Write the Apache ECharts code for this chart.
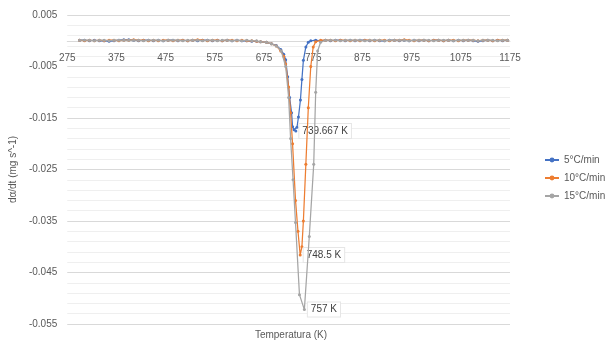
<!DOCTYPE html>
<html>
<head>
<meta charset="utf-8">
<script src="https://cdn.jsdelivr.net/npm/echarts@6.0.0/dist/echarts.min.js"></script>
<style>
  html, body { margin: 0; padding: 0; background: #fff; }
  #main { width: 605px; height: 343px; }
</style>
</head>
<body>
<div id="main"></div>
<script>
  var myChart = echarts.init(document.getElementById('main'));

  // flat parts of the curves, shared temperatures (K)
  const lowT = [300,310,320,330,340,350,360,370,380,390,400,410,420,430,440,450,460,470,480,490,500,510,520,530,540,550,560,570,580,590,600,610,620,630,640,650,660];
  const highT = [800,810,820,830,840,850,860,870,880,890,900,910,920,930,940,950,960,970,980,990,1000,1010,1020,1030,1040,1050,1060,1070,1080,1090,1100,1110,1120,1130,1140,1150,1160,1170];

  // 5°C/min
  const low5 = [0.0001,0.0001,0,0.0001,0,0,-0.0001,0,0.0001,0.0002,0.0002,0.0001,0,0.0001,0.0001,0,0.0001,0,0.0001,0.0001,0,0.0001,0,0.0001,0,0.0001,0.0001,0,0.0001,0,0.0001,0,0.0001,0,0,-0.0001,-0.0001];
  const peak5T = [668,680,690,700,709,715,719,723,727,731,733,736,739.667,742,745,749,752,755,760,765,770,780,790];
  const peak5 = [-0.0002,-0.0003,-0.0006,-0.0009,-0.0017,-0.0026,-0.0037,-0.007,-0.011,-0.014,-0.0167,-0.0173,-0.0175,-0.0168,-0.0148,-0.0115,-0.0075,-0.0038,-0.0012,-0.0003,0,0.0001,0];
  const high5 = [0.0001,0,0.0001,0.0001,0,0.0001,0,0.0001,0.0001,0,0.0001,0,0,0.0001,0.0001,0,0.0001,0,0.0001,0,0.0001,0,0.0001,0.0001,0,0.0001,0,0.0001,0,0.0001,0,-0.0001,0,0.0001,0,0.0001,0,0.0001];

  // 10°C/min
  const low10 = [0.0001,0,0.0001,0,0.0001,0,0.0001,0.0001,0,0.0001,0.0001,0.0002,0.0001,0.0001,0,0.0001,0,0.0001,0.0001,0,0.0001,0.0001,0,0.0001,0.0002,0.0001,0,0.0001,0.0001,0,0.0001,0.0001,0,0.0001,0,0,-0.0001];
  const peak10T = [668,680,690,700,709,715,719,725,729,733,739,744,748.5,752,755,760,765,770,775,780,790];
  const peak10 = [-0.0002,-0.0003,-0.0006,-0.001,-0.002,-0.003,-0.0045,-0.009,-0.014,-0.02,-0.031,-0.037,-0.0416,-0.04,-0.035,-0.024,-0.013,-0.005,-0.0012,-0.0002,0.0001];
  const high10 = [0.0001,0.0001,0,0.0001,0.0001,0,0.0001,0,0.0001,0.0001,0,0.0001,0.0001,0,0.0001,0.0001,0.0002,0.0001,0,0.0001,0.0001,0,0.0001,0.0001,0,0.0001,0.0001,0,0.0001,0.0001,0.0001,0,0.0001,0.0001,0,0.0001,0.0001,0.0001];

  // 15°C/min
  const low15 = [0.0001,0.0001,0.0001,0,0.0001,0.0001,0,0.0001,0.0001,0.0001,0.0001,0.0001,0.0001,0,0.0001,0.0001,0.0001,0,0.0001,0.0001,0.0001,0,0.0001,0.0001,0.0001,0,0.0001,0.0001,0,0.0001,0.0001,0,0.0001,0,0.0001,0,0];
  const peak15T = [668,680,690,700,710,719,725,729,734,739,747,757,767,776,780,784,790];
  const peak15 = [-0.0002,-0.0003,-0.0006,-0.001,-0.002,-0.005,-0.011,-0.019,-0.027,-0.0353,-0.0493,-0.0522,-0.038,-0.024,-0.01,-0.002,-0.0003];
  const high15 = [0.0001,0.0001,0.0001,0,0.0001,0.0001,0.0001,0.0001,0,0.0001,0.0001,0.0001,0,0.0001,0.0001,0.0001,0.0001,0,0.0001,0.0001,0.0001,0.0001,0,0.0001,0.0001,0.0001,0,0.0001,0.0001,0.0001,0.0001,0,0.0001,0.0001,0.0001,0,0.0001,0.0001];

  const seriesNames = ['5°C/min', '10°C/min', '15°C/min'];
  const colors = ['#4472C4', '#ED7D31', '#A5A5A5'];
  const peakTemps = [739.667, 748.5, 757];
  const peakLabels = ['739.667 K', '748.5 K', '757 K'];

  const fontFam = 'Liberation Sans, Arial, sans-serif';

  function build(low, peakT, peak, high, k) {
    const t = lowT.concat(peakT, highT);
    const v = low.concat(peak, high);
    return t.map(function (x, i) {
      if (x === peakTemps[k]) {
        return {
          value: [x, v[i]],
          label: {
            show: true,
            position: 'right',
            distance: 2,
            formatter: peakLabels[k],
            fontSize: 10,
            fontFamily: fontFam,
            color: '#404040',
            backgroundColor: '#ffffff',
            borderColor: '#e6e6e6',
            borderWidth: 1,
            padding: [2, 3]
          }
        };
      }
      return [x, v[i]];
    });
  }

  const allData = [
    build(low5, peak5T, peak5, high5, 0),
    build(low10, peak10T, peak10, high10, 1),
    build(low15, peak15T, peak15, high15, 2)
  ];

  // grid: top 15, bottom edge at 324; y range -0.055..0.005
  const gridTop = 15, gridBottomY = 324;
  const zeroY = gridTop + (0.005 / 0.06) * (gridBottomY - gridTop);

  var option = {
    animation: false,
    color: colors,
    title: {
      text: 'Temperatura (K)',
      left: 286,
      top: 325,
      textAlign: 'center',
      textStyle: { fontSize: 10, fontWeight: 'normal', color: '#595959', fontFamily: fontFam }
    },
    legend: {
      orient: 'vertical',
      left: 539,
      top: 150,
      itemGap: 8,
      itemWidth: 14,
      itemHeight: 6,
      textStyle: { fontSize: 10, color: '#595959', fontFamily: fontFam },
      data: seriesNames
    },
    grid: { left: 66, right: 95, top: gridTop, bottom: 343 - gridBottomY },
    xAxis: {
      type: 'value',
      min: 275,
      max: 1175,
      interval: 100,
      position: 'bottom',
      offset: -(gridBottomY - zeroY),
      axisLine: { onZero: false, lineStyle: { color: '#d9d9d9' } },
      axisTick: { show: false },
      axisLabel: {
        fontSize: 10, color: '#595959', fontFamily: fontFam, margin: 12,
        formatter: function (v) { return String(v); }
      },
      splitLine: { show: false }
    },
    yAxis: {
      type: 'value',
      name: 'dα/dt (mg s^-1)',
      nameLocation: 'middle',
      nameGap: 46,
      nameTextStyle: { fontSize: 10, color: '#595959', fontFamily: fontFam },
      min: -0.055,
      max: 0.005,
      interval: 0.01,
      axisLine: { show: false },
      axisTick: { show: false },
      axisLabel: {
        fontSize: 10, color: '#595959', fontFamily: fontFam, margin: 10,
        formatter: function (v) { return v.toFixed(3); }
      },
      splitLine: { lineStyle: { color: '#d9d9d9' } },
      minorTick: { show: false, splitNumber: 5 },
      minorSplitLine: { show: true, lineStyle: { color: '#efefef' } }
    },
    series: seriesNames.map(function (n, i) {
      return {
        name: n,
        type: 'line',
        data: allData[i],
        symbol: 'circle',
        symbolSize: 3,
        lineStyle: { width: 1.25 },
        z: 2 + i
      };
    })
  };

  myChart.setOption(option);
</script>
</body>
</html>
